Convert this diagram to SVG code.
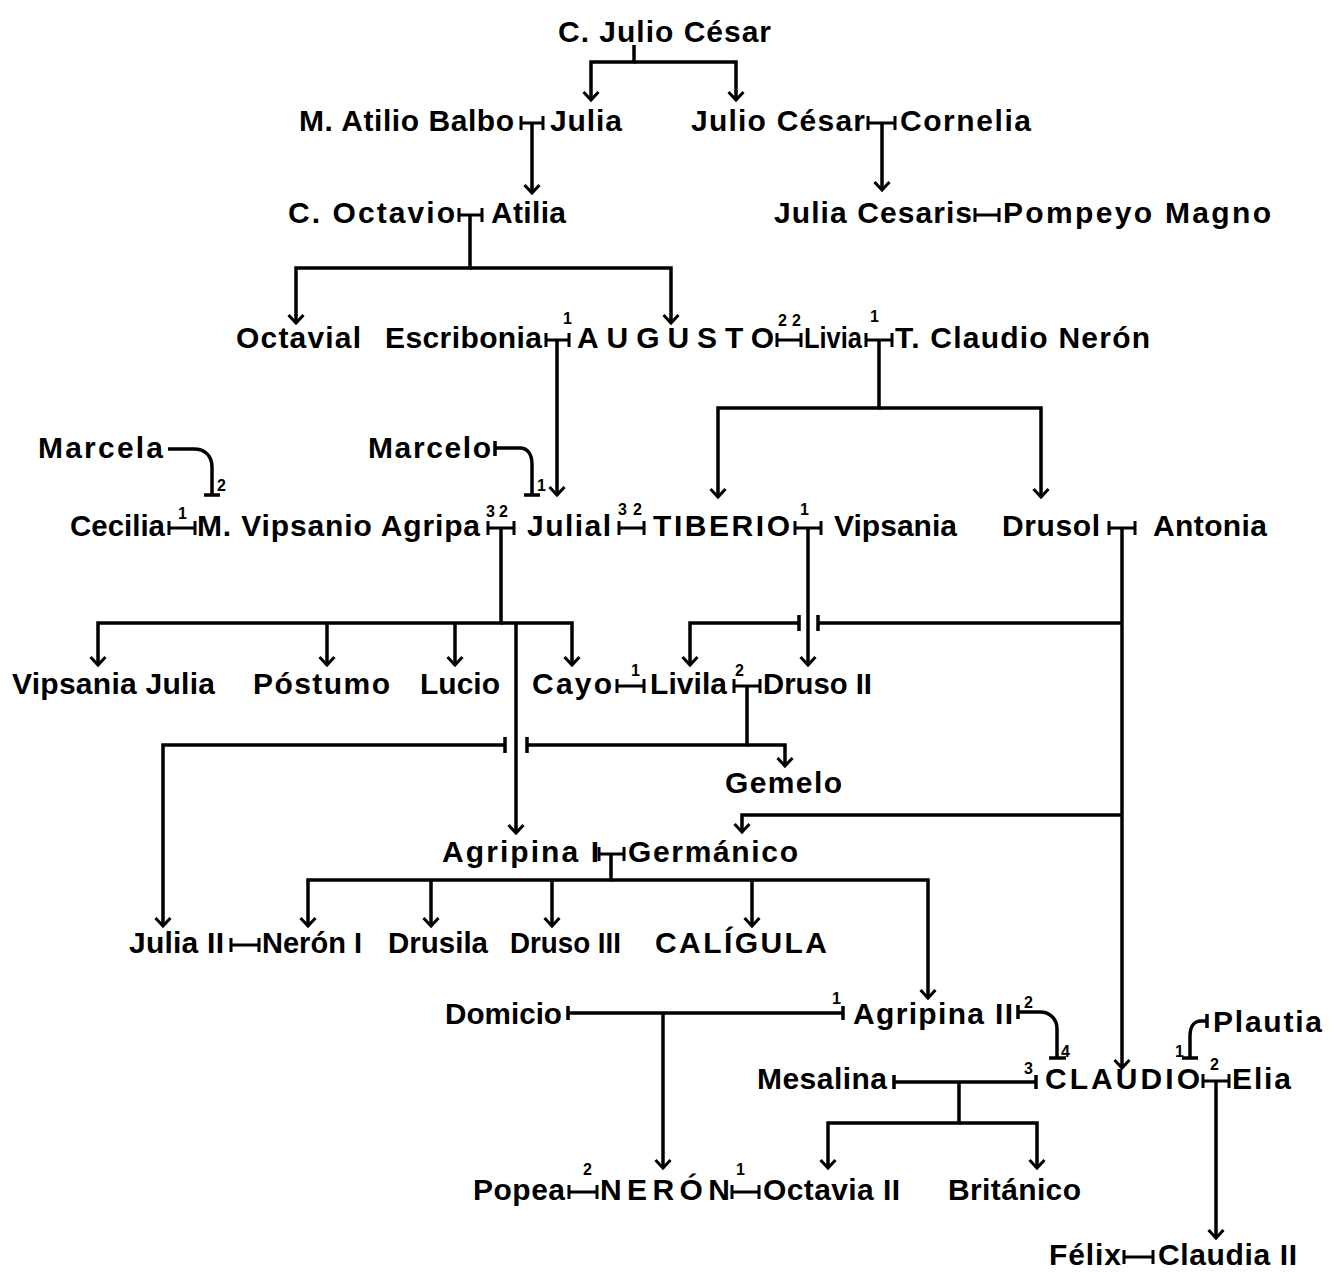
<svg xmlns="http://www.w3.org/2000/svg" width="1338" height="1275" viewBox="0 0 1338 1275">
<style>
.t{font-family:"Liberation Sans",Arial,sans-serif;font-weight:bold;font-size:30px;fill:#000}
.n{font-family:"Liberation Sans",Arial,sans-serif;font-weight:bold;font-size:16px;fill:#000}
.c{fill:none;stroke:#000;stroke-width:3.5}
.m{fill:none;stroke:#000;stroke-width:3}
.a{marker-end:url(#arr)}
</style>
<defs>
<marker id="arr" markerUnits="userSpaceOnUse" markerWidth="24" markerHeight="24" viewBox="-12 -12 24 24" refX="0" refY="0" orient="auto">
<path d="M-8,-7.5 L0,0 L-8,7.5" fill="none" stroke="#000" stroke-width="3"/>
</marker>
</defs>
<rect width="1338" height="1275" fill="#fff"/>
<g id="connectors">
<path class="c a" d="M634,45V62H591V100"/>
<path class="c a" d="M634,62H736V100"/>
<path class="m" d="M521,116V130M543,116V130M521,123H543"/>
<path class="c a" d="M532,123V193"/>
<path class="m" d="M868,116V130M895,116V130M868,123H895"/>
<path class="c a" d="M882,123V190"/>
<path class="m" d="M975,208V222M999,208V222M975,215H999"/>
<path class="m" d="M459,208V222M482,208V222M459,215H482"/>
<path class="c a" d="M470,215V268H296V323"/>
<path class="c a" d="M470,268H671V323"/>
<path class="m" d="M546,333V347M569,333V347M546,340H569"/>
<path class="c a" d="M557,340V495"/>
<path class="m" d="M777,333V347M801,333V347M777,340H801"/>
<path class="m" d="M866,333V347M892,333V347M866,340H892"/>
<path class="c a" d="M879,340V408H718V497"/>
<path class="c a" d="M879,408H1041V497"/>
<path class="c" d="M168,449H194C205,449 212,456 212,467V495M204,495H220"/>
<path class="c" d="M495,441V456M495,448H520C528,448 532,455 532,464V495M524,495H540"/>
<path class="m" d="M169,521V535M195,521V535M169,528H195"/>
<path class="m" d="M488,521V535M514,521V535M488,528H514"/>
<path class="c a" d="M501,528V623H98V665"/>
<path class="c a" d="M501,623H572V665"/>
<path class="c a" d="M327,623V665"/>
<path class="c a" d="M455,623V665"/>
<path class="c a" d="M516,623V833"/>
<path class="m" d="M619,521V535M644,521V535M619,528H644"/>
<path class="m" d="M795,521V535M821,521V535M795,528H821"/>
<path class="c a" d="M808,528V665"/>
<path class="m" d="M1109,521V535M1135,521V535M1109,528H1135"/>
<path class="c a" d="M1122,528V1068"/>
<path class="c" d="M1122,623H818M818,615V631M799,615V631"/>
<path class="c a" d="M799,623H690V665"/>
<path class="c a" d="M1122,815H742V832"/>
<path class="m" d="M617,679V693M644,679V693M617,686H644"/>
<path class="m" d="M734,679V693M760,679V693M734,686H760"/>
<path class="c" d="M747,686V745H527M527,737V753M505,737V753"/>
<path class="c a" d="M505,745H163V926"/>
<path class="c a" d="M747,745H785V766"/>
<path class="m" d="M599,847V861M624,847V861M599,854H624"/>
<path class="c a" d="M611,854V880H308V926"/>
<path class="c a" d="M611,880H928V998"/>
<path class="c a" d="M431,880V926"/>
<path class="c a" d="M552,880V926"/>
<path class="c a" d="M752,880V926"/>
<path class="m" d="M231,938V952M259,938V952M231,945H259"/>
<path class="c" d="M568,1006V1020M568,1013H843M843,1006V1020"/>
<path class="c a" d="M663,1013V1168"/>
<path class="c" d="M1018,1005V1019M1018,1012H1040C1050,1012 1057,1019 1057,1029V1058M1049,1058H1066"/>
<path class="c" d="M894,1075V1089M894,1082H1036M1036,1075V1089"/>
<path class="c a" d="M959,1082V1123H828V1168"/>
<path class="c a" d="M959,1123H1037V1168"/>
<path class="c" d="M1207,1014V1028M1207,1021H1201C1194,1021 1190,1027 1190,1036V1058M1182,1058H1198"/>
<path class="m" d="M1203,1074V1088M1229,1074V1088M1203,1081H1229"/>
<path class="c a" d="M1216,1081V1238"/>
<path class="m" d="M569,1185V1199M597,1185V1199M569,1192H597"/>
<path class="m" d="M732,1185V1199M759,1185V1199M732,1192H759"/>
<path class="m" d="M1124,1250V1264M1153,1250V1264M1124,1257H1153"/>
<text class="n" x="563" y="324">1</text>
<text class="n" x="778" y="326">2</text>
<text class="n" x="792" y="326">2</text>
<text class="n" x="870" y="322">1</text>
<text class="n" x="217" y="491">2</text>
<text class="n" x="537" y="491">1</text>
<text class="n" x="178" y="519">1</text>
<text class="n" x="486" y="517">3</text>
<text class="n" x="499" y="517">2</text>
<text class="n" x="618" y="515">3</text>
<text class="n" x="633" y="515">2</text>
<text class="n" x="800" y="515">1</text>
<text class="n" x="631" y="676">1</text>
<text class="n" x="735" y="676">2</text>
<text class="n" x="832" y="1004">1</text>
<text class="n" x="1024" y="1008">2</text>
<text class="n" x="1061" y="1057">4</text>
<text class="n" x="1024" y="1074">3</text>
<text class="n" x="1175" y="1057">1</text>
<text class="n" x="1210" y="1070">2</text>
<text class="n" x="583" y="1175">2</text>
<text class="n" x="736" y="1175">1</text>
</g>
<g id="n_cjuliocesar"><text class="t" x="558" y="42" textLength="213" lengthAdjust="spacing">C. Julio César</text></g>
<g id="n_balbo"><text class="t" x="299" y="131" textLength="215" lengthAdjust="spacing">M. Atilio Balbo</text></g>
<g id="n_julia"><text class="t" x="550" y="131" textLength="72" lengthAdjust="spacing">Julia</text></g>
<g id="n_juliocesar"><text class="t" x="691" y="131" textLength="174" lengthAdjust="spacing">Julio César</text></g>
<g id="n_cornelia"><text class="t" x="900" y="131" textLength="131" lengthAdjust="spacing">Cornelia</text></g>
<g id="n_octavio"><text class="t" x="288" y="223" textLength="167" lengthAdjust="spacing">C. Octavio</text></g>
<g id="n_atilia"><text class="t" x="491" y="223" textLength="75" lengthAdjust="spacing">Atilia</text></g>
<g id="n_juliacesaris"><text class="t" x="774" y="223" textLength="198" lengthAdjust="spacing">Julia Cesaris</text></g>
<g id="n_pompeyo"><text class="t" x="1003" y="223" textLength="268" lengthAdjust="spacing">Pompeyo Magno</text></g>
<g id="n_octavia1"><text class="t" x="236" y="348" textLength="125" lengthAdjust="spacing">Octavial</text></g>
<g id="n_escribonia"><text class="t" x="385" y="348" textLength="157" lengthAdjust="spacing">Escribonia</text></g>
<g id="n_augusto"><text class="t" x="577" y="348" textLength="197" lengthAdjust="spacing">AUGUSTO</text></g>
<g id="n_livia"><text class="t" x="804" y="348" textLength="58" lengthAdjust="spacingAndGlyphs">Livia</text></g>
<g id="n_tclaudio"><text class="t" x="895" y="348" textLength="255" lengthAdjust="spacing">T. Claudio Nerón</text></g>
<g id="n_marcela"><text class="t" x="38" y="458" textLength="125" lengthAdjust="spacing">Marcela</text></g>
<g id="n_marcelo"><text class="t" x="368" y="458" textLength="123" lengthAdjust="spacing">Marcelo</text></g>
<g id="n_cecilia"><text class="t" x="70" y="536" textLength="95" lengthAdjust="spacingAndGlyphs">Cecilia</text></g>
<g id="n_agripa"><text class="t" x="197" y="536" textLength="283" lengthAdjust="spacing">M. Vipsanio Agripa</text></g>
<g id="n_julia1"><text class="t" x="527" y="536" textLength="84" lengthAdjust="spacing">Julial</text></g>
<g id="n_tiberio"><text class="t" x="653" y="536" textLength="137" lengthAdjust="spacing">TIBERIO</text></g>
<g id="n_vipsania"><text class="t" x="834" y="536" textLength="123" lengthAdjust="spacing">Vipsania</text></g>
<g id="n_druso1"><text class="t" x="1002" y="536" textLength="98" lengthAdjust="spacing">Drusol</text></g>
<g id="n_antonia"><text class="t" x="1153" y="536" textLength="114" lengthAdjust="spacing">Antonia</text></g>
<g id="n_vipsaniajulia"><text class="t" x="12" y="694" textLength="203" lengthAdjust="spacing">Vipsania Julia</text></g>
<g id="n_postumo"><text class="t" x="253" y="694" textLength="137" lengthAdjust="spacing">Póstumo</text></g>
<g id="n_lucio"><text class="t" x="420" y="694" textLength="80" lengthAdjust="spacing">Lucio</text></g>
<g id="n_cayo"><text class="t" x="532" y="694" textLength="80" lengthAdjust="spacing">Cayo</text></g>
<g id="n_livila"><text class="t" x="650" y="694" textLength="77" lengthAdjust="spacing">Livila</text></g>
<g id="n_druso2"><text class="t" x="763" y="694" textLength="109" lengthAdjust="spacingAndGlyphs">Druso II</text></g>
<g id="n_gemelo"><text class="t" x="725" y="793" textLength="117" lengthAdjust="spacing">Gemelo</text></g>
<g id="n_agripina1"><text class="t" x="442" y="862" textLength="157" lengthAdjust="spacing">Agripina I</text></g>
<g id="n_germanico"><text class="t" x="628" y="862" textLength="170" lengthAdjust="spacing">Germánico</text></g>
<g id="n_julia2"><text class="t" x="129" y="953" textLength="95" lengthAdjust="spacing">Julia II</text></g>
<g id="n_neron1"><text class="t" x="262" y="953" textLength="100" lengthAdjust="spacingAndGlyphs">Nerón I</text></g>
<g id="n_drusila"><text class="t" x="388" y="953" textLength="100" lengthAdjust="spacingAndGlyphs">Drusila</text></g>
<g id="n_druso3"><text class="t" x="510" y="953" textLength="111" lengthAdjust="spacingAndGlyphs">Druso III</text></g>
<g id="n_caligula"><text class="t" x="655" y="953" textLength="172" lengthAdjust="spacing">CALÍGULA</text></g>
<g id="n_domicio"><text class="t" x="445" y="1024" textLength="117" lengthAdjust="spacingAndGlyphs">Domicio</text></g>
<g id="n_agripina2"><text class="t" x="853" y="1024" textLength="160" lengthAdjust="spacing">Agripina II</text></g>
<g id="n_plautia"><text class="t" x="1213" y="1032" textLength="109" lengthAdjust="spacing">Plautia</text></g>
<g id="n_mesalina"><text class="t" x="757" y="1089" textLength="130" lengthAdjust="spacing">Mesalina</text></g>
<g id="n_claudio"><text class="t" x="1045" y="1089" textLength="155" lengthAdjust="spacing">CLAUDIO</text></g>
<g id="n_elia"><text class="t" x="1232" y="1089" textLength="59" lengthAdjust="spacing">Elia</text></g>
<g id="n_popea"><text class="t" x="473" y="1200" textLength="92" lengthAdjust="spacing">Popea</text></g>
<g id="n_neron"><text class="t" x="600" y="1200" textLength="130" lengthAdjust="spacing">NERÓN</text></g>
<g id="n_octavia2"><text class="t" x="763" y="1200" textLength="137" lengthAdjust="spacing">Octavia II</text></g>
<g id="n_britanico"><text class="t" x="948" y="1200" textLength="133" lengthAdjust="spacing">Británico</text></g>
<g id="n_felix"><text class="t" x="1049" y="1265" textLength="72" lengthAdjust="spacing">Félix</text></g>
<g id="n_claudia2"><text class="t" x="1158" y="1265" textLength="139" lengthAdjust="spacing">Claudia II</text></g>
</svg>
